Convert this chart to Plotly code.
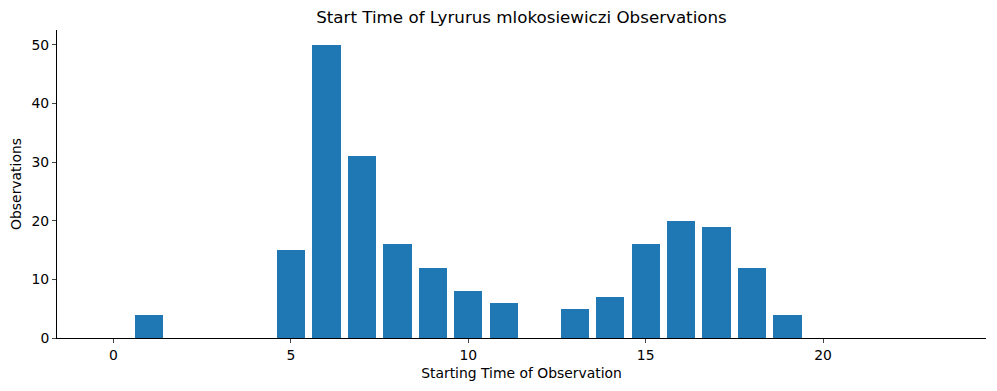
import plotly.graph_objects as go

hours = list(range(24))
observations = [0, 4, 0, 0, 0, 15, 50, 31, 16, 12, 8, 6, 0, 5, 7, 16, 20, 19, 12, 4, 0, 0, 0, 0]
x_ticks = [0, 5, 10, 15, 20]
y_ticks = [0, 10, 20, 30, 40, 50]

fig = go.Figure(go.Bar(x=hours, y=observations, width=0.8, marker=dict(color="#1f77b4", line=dict(width=0))))

font = "DejaVu Sans"
fig.update_layout(
    width=997, height=391,
    margin=dict(l=57, r=11, t=30, b=53),
    plot_bgcolor="white", paper_bgcolor="white",
    font=dict(family=font, size=13.9, color="black"),
    title=dict(text="Start Time of Lyrurus mlokosiewiczi Observations", x=0.5, xref="paper",
               y=1 - 17/391, yanchor="middle", font=dict(size=16.7)),
    showlegend=False,
    bargap=0,
)
fig.update_xaxes(range=[-1.59, 24.59], tickvals=x_ticks, ticks="outside", ticklen=4, tickwidth=1,
                 showline=True, linecolor="black", linewidth=1, showgrid=False, zeroline=False,
                 title=dict(text="Starting Time of Observation", standoff=6, font=dict(size=13.9)))
fig.update_yaxes(range=[0, 52.5], tickvals=y_ticks, ticks="outside", ticklen=4, tickwidth=1,
                 showline=True, linecolor="black", linewidth=1, showgrid=False, zeroline=False,
                 title=dict(text="Observations", standoff=6, font=dict(size=13.9)))

fig.write_html("out.html")
